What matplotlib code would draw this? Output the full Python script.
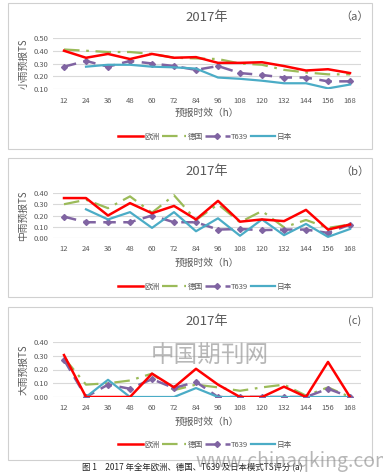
import numpy as np
import matplotlib
matplotlib.use("Agg")
import matplotlib.pyplot as plt
from matplotlib.patches import Rectangle

plt.rcParams['font.family'] = ['Noto Sans CJK SC', 'DejaVu Sans']

#--------------------------------------------------------------------------------------------------
# Data
hours = ["12", "24", "36", "48", "60", "72", "84", "96", "108", "120", "132", "144", "156", "168"]
series_names = ["欧洲", "德国", "T639", "日本"]

# (a) light rain
a_europe = [0.40, 0.345, 0.375, 0.335, 0.375, 0.345, 0.35, 0.305, 0.305, 0.31, 0.28, 0.245, 0.255, 0.225]
a_germany = [0.41, 0.40, 0.39, 0.39, 0.375, 0.345, 0.34, 0.335, 0.30, 0.29, 0.25, 0.23, 0.215, 0.215]
a_t639 = [0.275, 0.32, 0.275, 0.32, 0.30, 0.28, 0.25, 0.28, 0.225, 0.21, 0.19, 0.19, 0.16, 0.16]
a_japan = [np.nan, 0.275, 0.29, 0.29, 0.275, 0.27, 0.26, 0.19, 0.18, 0.165, 0.145, 0.145, 0.105, 0.135]

# (b) moderate rain
b_europe = [0.355, 0.355, 0.20, 0.31, 0.22, 0.285, 0.165, 0.33, 0.145, 0.165, 0.15, 0.25, 0.075, 0.12]
b_germany = [0.30, 0.34, 0.265, 0.37, 0.225, 0.38, 0.16, 0.30, 0.14, 0.24, 0.095, 0.16, 0.09, 0.12]
b_t639 = [0.19, 0.14, 0.14, 0.14, 0.20, 0.14, 0.14, 0.075, 0.08, 0.07, 0.075, 0.075, 0.045, 0.12]
b_japan = [np.nan, 0.255, 0.165, 0.23, 0.09, 0.23, 0.06, 0.175, 0.02, 0.165, 0.025, 0.125, 0.01, 0.08]

# (c) heavy rain
c_europe = [0.305, 0.0, 0.0, 0.0, 0.17, 0.07, 0.205, 0.09, 0.0, 0.0, 0.075, 0.0, 0.255, 0.0]
c_germany = [0.285, 0.09, 0.10, 0.12, 0.17, 0.05, 0.09, 0.07, 0.045, 0.07, 0.09, 0.01, 0.07, 0.0]
c_t639 = [0.27, 0.0, 0.09, 0.06, 0.13, 0.065, 0.11, 0.0, 0.0, 0.0, 0.0, 0.0, 0.06, 0.0]
c_japan = [np.nan, 0.0, 0.125, 0.0, 0.0, 0.0, 0.065, 0.0, 0.0, 0.0, 0.0, 0.0, 0.0, 0.0]

panels = [
    ("（a）", "小雨预报TS", (0.10, 0.50), [a_europe, a_germany, a_t639, a_japan]),
    ("（b）", "中雨预报TS", (0.0, 0.40), [b_europe, b_germany, b_t639, b_japan]),
    ("(c)", "大雨预报TS", (0.0, 0.40), [c_europe, c_germany, c_t639, c_japan]),
]

#--------------------------------------------------------------------------------------------------
# Layout (pixels in a 383x475 figure)
W, H = 383, 475
grey = "#595959"
# box top, box bottom, plot top, plot bottom, title y, tick y, xlabel y, legend y
geom = [
    (3, 149, 38, 89, 17, 100, 113, 137),
    (158, 297, 193, 238, 172, 248, 263, 287),
    (307, 460, 342, 397, 321, 407, 422, 445),
]
plot_left, plot_right = 53, 361
box_left, box_right = 8, 372

fig = plt.figure(figsize=(W / 100, H / 100), dpi=100)

def fx(px):
    return px / W

def fy(py):
    return 1 - py / H

x = np.arange(len(hours))

for (tag, ylab, ylim, data), g in zip(panels, geom):
    btop, bbot, ptop, pbot, ty, tky, xly, lgy = g
    fig.patches.append(Rectangle((fx(box_left), fy(bbot)), fx(box_right - box_left), (bbot - btop) / H,
                                 transform=fig.transFigure, fill=False, edgecolor="#D0D0D0", lw=0.8))
    ax = fig.add_axes([fx(plot_left), fy(pbot), fx(plot_right - plot_left), (pbot - ptop) / H])
    europe, germany, t639, japan = data
    ax.plot(x, germany, color="#9BBB59", lw=1.6, dashes=(7, 3, 1.2, 3), label=series_names[1])
    ax.plot(x, t639, color="#8064A2", lw=1.8, dashes=(5, 3), marker="D", ms=3, label=series_names[2])
    ax.plot(x, japan, color="#4BACC6", lw=1.6, label=series_names[3])
    ax.plot(x, europe, color="#FF0000", lw=1.8, label=series_names[0])
    ax.set_xlim(-0.5, len(hours) - 0.5)
    ax.set_ylim(*ylim)
    ax.set_yticks(np.arange(ylim[0], ylim[1] + 0.001, 0.1))
    ax.set_yticklabels(["%.2f" % v for v in np.arange(ylim[0], ylim[1] + 0.001, 0.1)])
    ax.set_xticks(x)
    ax.set_xticklabels(hours)
    ax.tick_params(length=0, labelsize=5.5, colors=grey, pad=3)
    ax.tick_params(axis="x", pad=(tky - pbot) * 0.72 - 2)
    for s in ax.spines.values():
        s.set_visible(False)
    ax.grid(axis="y", color="#D9D9D9", lw=0.8)
    ax.set_axisbelow(True)
    ax.set_facecolor("none")
    ax.set_ylabel(ylab, fontsize=7, color=grey, labelpad=4)

    fig.text(fx(207), fy(ty), "2017年", ha="center", va="center", fontsize=9.5, color=grey)
    fig.text(fx(355), fy(ty), tag, ha="center", va="center", fontsize=8, color=grey)
    fig.text(fx(207), fy(xly), "预报时效（h）", ha="center", va="center", fontsize=7, color=grey)

    handles, labels = ax.get_legend_handles_labels()
    order = [3, 0, 1, 2]
    fig.legend([handles[i] for i in order], [labels[i] for i in order], loc="center",
               bbox_to_anchor=(fx(205), fy(lgy)), ncol=4, frameon=False, fontsize=5.5,
               handlelength=3.2, columnspacing=0.3, handletextpad=0.2, labelcolor=grey)

fig.text(fx(192), fy(468), "图 1　2017 年全年欧洲、德国、T639 及日本模式TS评分 (a)",
         ha="center", va="center", fontsize=6, color="#222222")

# watermark
fig.text(fx(210), fy(355), "中国期刊网", ha="center", va="center", fontsize=17, color="#888888", alpha=0.6)
fig.text(fx(294), fy(462), "www.chinaqking.com", ha="center", va="center", fontsize=14, color="#888888", alpha=0.6)

fig.savefig("out.png", dpi=100)
